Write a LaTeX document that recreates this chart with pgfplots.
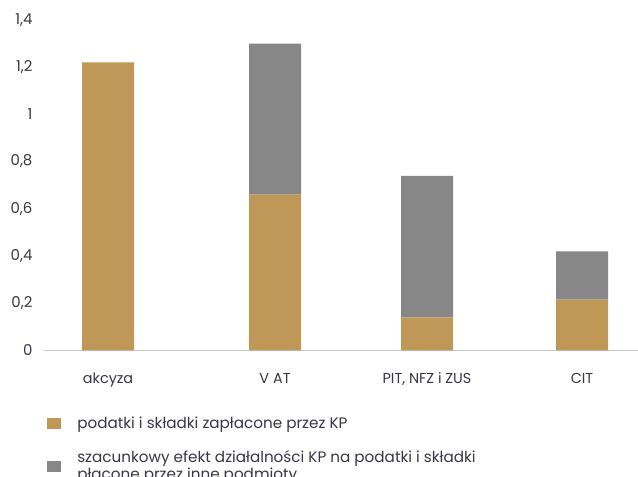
\documentclass[border=0pt]{standalone}
\usepackage{fontspec}
\setmainfont{Poppins}
\usepackage{pgfplots}
\pgfplotsset{compat=1.18}
\definecolor{gold}{RGB}{191,151,86}
\definecolor{grayb}{RGB}{135,135,135}
\definecolor{axisgray}{RGB}{200,200,200}
\definecolor{txt}{RGB}{55,55,70}
\begin{document}
\begin{tikzpicture}
\path[use as bounding box] (0,0) rectangle (478.5pt,357.75pt);
\begin{axis}[
  at={(33pt,94.9pt)}, anchor=south west,
  scale only axis, width=445.5pt, height=247.9pt,
  xmin=44, xmax=638, ymin=0, ymax=1.4,
  ybar stacked, bar width=39pt,
  axis y line=none,
  axis x line*=bottom,
  x axis line style={draw=axisgray, line width=0.9pt, -},
  xtick={108,275,427,582},
  xticklabels={akcyza, V AT, {PIT, NFZ i ZUS}, CIT},
  major tick length=0pt,
  xticklabel style={anchor=base, inner sep=0pt, yshift=-24.5pt, font=\fontsize{10.8}{12}\selectfont, text=txt},
  ytick={0,0.2,...,1.4},
  /pgf/number format/assume math mode=true,
  /pgf/number format/use comma,
  /pgf/number format/1000 sep={},
  clip=false,
  legend cell align=left,
  legend style={draw=none, at={(0,0)}, anchor=north west, xshift=2.25pt, yshift=-47.5pt,
    font=\fontsize{11.4}{11.25}\selectfont, text=txt, row sep=11.5pt, column sep=10pt,
    cells={align=left}, inner sep=0pt},
  legend image code/.code={\fill[#1,draw=none] (0pt,-4pt) rectangle (10.5pt,4pt);},
]
\addplot[fill=gold, draw=none] coordinates {(108,1.22) (275,0.66) (427,0.14) (582,0.215)};
\addplot[fill=grayb, draw=none] coordinates {(108,0) (275,0.64) (427,0.60) (582,0.205)};
\legend{podatki i składki zapłacone przez KP, {szacunkowy efekt działalności KP na podatki i składki\\płacone przez inne podmioty}}
\end{axis}
\begin{axis}[
  at={(33pt,94.9pt)}, anchor=south west,
  scale only axis, width=445.5pt, height=247.9pt,
  xmin=44, xmax=638, ymin=0, ymax=1.4,
  axis x line=none, axis y line*=left, y axis line style={draw=none},
  major tick length=0pt,
  ytick={0,0.2,...,1.4},
  yticklabel style={anchor=east, inner sep=0pt, xshift=-8.5pt, font=\fontsize{11.2}{12}\selectfont, text=txt},
  /pgf/number format/assume math mode=true,
  /pgf/number format/use comma,
  /pgf/number format/1000 sep={},
]
\addplot[draw=none, forget plot] coordinates {(44,0)};
\end{axis}
\end{tikzpicture}
\end{document}
